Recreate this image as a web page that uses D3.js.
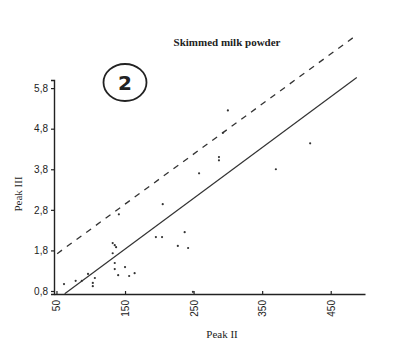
<!DOCTYPE html>
<html>
<head>
<meta charset="utf-8">
<script src="https://cdn.jsdelivr.net/npm/d3@7"></script>
<style>
  body { margin: 0; background: #fff; }
  svg { display: block; }
</style>
</head>
<body>
<div id="chart"></div>
<script>
// ---------- data ----------
const peakII  = [61, 78, 87, 96, 106, 103, 103, 132, 137, 135, 132, 135, 135, 140, 150, 156, 164,
                 141, 195, 204, 205, 227, 237, 242, 249, 258, 300, 287, 287, 370, 420, 293];
const peakIII = [0.97, 1.05, 1.05, 1.22, 1.12, 1.0, 0.92, 1.98, 1.88, 1.93, 1.73, 1.49, 1.34, 1.19, 1.39, 1.17, 1.24,
                 2.69, 2.13, 2.13, 2.94, 1.91, 2.25, 1.86, 0.78, 3.7, 5.25, 4.1, 4.02, 3.8, 4.44, 4.7];
const xTicks = [50, 150, 250, 350, 450];
const yTicks = [0.8, 1.8, 2.8, 3.8, 4.8, 5.8];
// regression line and upper limit line (end points)
const fitLine   = [[62, 0.73], [488, 6.06]];
const limitLine = [[51, 1.72], [488, 7.11]];

// ---------- layout ----------
const W = 399, H = 355;
const svg = d3.select("#chart").append("svg")
  .attr("width", W).attr("height", H);

const x = d3.scaleLinear().domain([46.4, 500]).range([54, 365]);
const y = d3.scaleLinear().domain([0.726, 6.0]).range([294, 80]);

const ink = "#222";
const fmt = d => d.toFixed(1).replace(".", ",");

// title
svg.append("text")
  .attr("x", 227).attr("y", 46)
  .attr("text-anchor", "middle")
  .style("font-family", "'Liberation Serif', serif")
  .style("font-weight", "bold")
  .style("font-size", "11px")
  .attr("fill", ink)
  .text("Skimmed milk powder");

// circled number
svg.append("ellipse")
  .attr("cx", 125).attr("cy", 82.5).attr("rx", 21.5).attr("ry", 18.5)
  .attr("fill", "none").attr("stroke", ink).attr("stroke-width", 1.8);
svg.append("text")
  .attr("x", 125).attr("y", 89.5)
  .attr("text-anchor", "middle")
  .style("font-family", "'DejaVu Sans', sans-serif")
  .style("font-weight", "bold")
  .style("font-size", "20px")
  .attr("fill", ink)
  .text("2");

// y axis
const yAxis = svg.append("g")
  .attr("transform", "translate(54,0)")
  .call(d3.axisLeft(y).tickValues(yTicks).tickFormat(fmt).tickSize(3).tickPadding(3));
yAxis.select(".domain").attr("stroke", ink).attr("stroke-width", 1.4);
yAxis.selectAll(".tick line").attr("stroke", ink).attr("stroke-width", 1.2);
yAxis.selectAll(".tick text")
  .style("font-family", "'Liberation Sans', Arial, sans-serif")
  .style("font-size", "10px")
  .attr("fill", ink);

// x axis
const xAxis = svg.append("g")
  .attr("transform", "translate(0,294)")
  .call(d3.axisBottom(x).tickValues(xTicks).tickSize(-3).tickSizeOuter(0));
xAxis.select(".domain").attr("stroke", ink).attr("stroke-width", 1.4);
xAxis.selectAll(".tick line").attr("stroke", ink).attr("stroke-width", 1.2);
xAxis.selectAll(".tick text")
  .attr("transform", "rotate(-90)")
  .attr("x", -6).attr("y", 0).attr("dy", "0.35em")
  .attr("text-anchor", "end")
  .style("font-family", "'Liberation Sans', Arial, sans-serif")
  .style("font-size", "10px")
  .attr("fill", ink);

// axis titles
svg.append("text")
  .attr("x", 222).attr("y", 338)
  .attr("text-anchor", "middle")
  .style("font-family", "'Liberation Serif', serif")
  .style("font-size", "11px")
  .attr("fill", ink)
  .text("Peak II");
svg.append("text")
  .attr("transform", "translate(22,194) rotate(-90)")
  .attr("text-anchor", "middle")
  .style("font-family", "'Liberation Serif', serif")
  .style("font-size", "11px")
  .attr("fill", ink)
  .text("Peak III");

// lines
const line = d3.line().x(d => x(d[0])).y(d => y(d[1]));
svg.append("path")
  .attr("d", line(fitLine))
  .attr("fill", "none").attr("stroke", "#333").attr("stroke-width", 1.2);
svg.append("path")
  .attr("d", line(limitLine))
  .attr("fill", "none").attr("stroke", "#333").attr("stroke-width", 1.3)
  .attr("stroke-dasharray", "6,6");

// points
svg.append("g")
  .selectAll("circle")
  .data(peakII.map((v, i) => [v, peakIII[i]]))
  .join("circle")
    .attr("cx", d => x(d[0]))
    .attr("cy", d => y(d[1]))
    .attr("r", 1.1)
    .attr("fill", "#333");
</script>
</body>
</html>
